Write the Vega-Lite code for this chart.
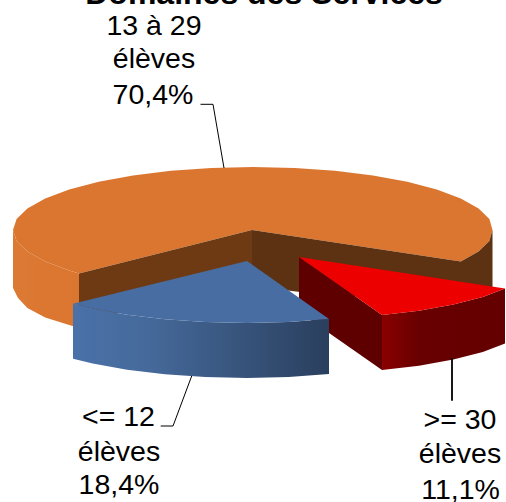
{"$schema":"https://vega.github.io/schema/vega-lite/v6.json","width":506,"height":502,"padding":0,"autosize":"none","background":"white","view":{"stroke":null},
"datasets":{"shapes":[
{"part":"orange top","i":0,"x":252,"y":230},{"part":"orange top","i":1,"x":460.8,"y":261.5},{"part":"orange top","i":2,"x":478.6,"y":251.5},{"part":"orange top","i":3,"x":489.4,"y":241},{"part":"orange top","i":4,"x":492.5,"y":230},{"part":"orange top","i":5,"x":489.4,"y":219},{"part":"orange top","i":6,"x":478.6,"y":208.5},{"part":"orange top","i":7,"x":460.8,"y":198.5},{"part":"orange top","i":8,"x":436.8,"y":189.5},{"part":"orange top","i":9,"x":407.3,"y":181.7},{"part":"orange top","i":10,"x":373,"y":175.4},{"part":"orange top","i":11,"x":335.1,"y":170.8},{"part":"orange top","i":12,"x":294.7,"y":168},{"part":"orange top","i":13,"x":253,"y":167},{"part":"orange top","i":14,"x":211.3,"y":168},{"part":"orange top","i":15,"x":170.9,"y":170.8},{"part":"orange top","i":16,"x":133,"y":175.4},{"part":"orange top","i":17,"x":98.7,"y":181.7},{"part":"orange top","i":18,"x":69.2,"y":189.5},{"part":"orange top","i":19,"x":45.2,"y":198.5},{"part":"orange top","i":20,"x":27.4,"y":208.5},{"part":"orange top","i":21,"x":16.6,"y":219},{"part":"orange top","i":22,"x":13,"y":230},{"part":"orange top","i":23,"x":16.6,"y":241},{"part":"orange top","i":24,"x":27.4,"y":251.5},{"part":"orange top","i":25,"x":45.2,"y":261.5},{"part":"orange top","i":26,"x":69.2,"y":270.5},{"part":"orange top","i":27,"x":79,"y":273.4},
{"part":"orange side","i":0,"x":13,"y":230},{"part":"orange side","i":1,"x":16.6,"y":241},{"part":"orange side","i":2,"x":27.4,"y":251.5},{"part":"orange side","i":3,"x":45.2,"y":261.5},{"part":"orange side","i":4,"x":69.2,"y":270.5},{"part":"orange side","i":5,"x":79,"y":273.4},{"part":"orange side","i":6,"x":79,"y":328},{"part":"orange side","i":7,"x":69.2,"y":325},{"part":"orange side","i":8,"x":45.2,"y":317.5},{"part":"orange side","i":9,"x":27.4,"y":308},{"part":"orange side","i":10,"x":18,"y":298},{"part":"orange side","i":11,"x":13,"y":288},
{"part":"wall left","i":0,"x":252,"y":230},{"part":"wall left","i":1,"x":79,"y":273.4},{"part":"wall left","i":2,"x":79,"y":320},{"part":"wall left","i":3,"x":252,"y":288},
{"part":"wall right","i":0,"x":252,"y":230},{"part":"wall right","i":1,"x":460.8,"y":261.5},{"part":"wall right","i":2,"x":478.6,"y":251.5},{"part":"wall right","i":3,"x":489.4,"y":241},{"part":"wall right","i":4,"x":492.5,"y":230},{"part":"wall right","i":5,"x":492.5,"y":287},{"part":"wall right","i":6,"x":400,"y":300},{"part":"wall right","i":7,"x":300,"y":292},{"part":"wall right","i":8,"x":252,"y":286},
{"part":"red wall","i":0,"x":299,"y":257},{"part":"red wall","i":1,"x":382,"y":315},{"part":"red wall","i":2,"x":382,"y":370},{"part":"red wall","i":3,"x":299,"y":312},
{"part":"red side","i":0,"x":382,"y":315},{"part":"red side","i":1,"x":419,"y":310.7},{"part":"red side","i":2,"x":453.3,"y":304.5},{"part":"red side","i":3,"x":482.8,"y":296.9},{"part":"red side","i":4,"x":505,"y":288.5},{"part":"red side","i":5,"x":505,"y":343.5},{"part":"red side","i":6,"x":482.8,"y":351.9},{"part":"red side","i":7,"x":453.3,"y":359.5},{"part":"red side","i":8,"x":419,"y":365.7},{"part":"red side","i":9,"x":382,"y":370},
{"part":"red top","i":0,"x":299,"y":257},{"part":"red top","i":1,"x":505,"y":288.5},{"part":"red top","i":2,"x":482.8,"y":296.9},{"part":"red top","i":3,"x":453.3,"y":304.5},{"part":"red top","i":4,"x":419,"y":310.7},{"part":"red top","i":5,"x":382,"y":315},
{"part":"blue side","i":0,"x":73,"y":303.7},{"part":"blue side","i":1,"x":92.7,"y":308.5},{"part":"blue side","i":2,"x":127,"y":314.7},{"part":"blue side","i":3,"x":164.9,"y":319.3},{"part":"blue side","i":4,"x":205.3,"y":322.1},{"part":"blue side","i":5,"x":247,"y":323},{"part":"blue side","i":6,"x":288.7,"y":322.1},{"part":"blue side","i":7,"x":329,"y":319},{"part":"blue side","i":8,"x":329,"y":374},{"part":"blue side","i":9,"x":288.7,"y":377.1},{"part":"blue side","i":10,"x":247,"y":378},{"part":"blue side","i":11,"x":205.3,"y":377.1},{"part":"blue side","i":12,"x":164.9,"y":374.3},{"part":"blue side","i":13,"x":127,"y":369.7},{"part":"blue side","i":14,"x":92.7,"y":363.5},{"part":"blue side","i":15,"x":73,"y":358.7},
{"part":"blue top","i":0,"x":247,"y":261},{"part":"blue top","i":1,"x":329,"y":319},{"part":"blue top","i":2,"x":288.7,"y":322.1},{"part":"blue top","i":3,"x":247,"y":323},{"part":"blue top","i":4,"x":205.3,"y":322.1},{"part":"blue top","i":5,"x":164.9,"y":319.3},{"part":"blue top","i":6,"x":127,"y":314.7},{"part":"blue top","i":7,"x":92.7,"y":308.5},{"part":"blue top","i":8,"x":73,"y":303.7}
],
"leaders":[
{"leader":"a","w":"thin","i":0,"x":200.5,"y":104.3},{"leader":"a","w":"thin","i":1,"x":213,"y":104.3},{"leader":"a","w":"thin","i":2,"x":224,"y":168},
{"leader":"b","w":"thin","i":0,"x":160.7,"y":426},{"leader":"b","w":"thin","i":1,"x":173,"y":426},{"leader":"b","w":"thin","i":2,"x":191.7,"y":376},
{"leader":"c","w":"thick","i":0,"x":452,"y":358},{"leader":"c","w":"thick","i":1,"x":452,"y":400.7}
],
"labels":[
{"label":"13 à 29","x":154,"y":35},{"label":"élèves","x":154,"y":68},{"label":"70,4%","x":153,"y":104},
{"label":"<= 12","x":118.5,"y":426},{"label":"élèves","x":119,"y":461},{"label":"18,4%","x":119,"y":494},
{"label":">= 30","x":460,"y":429},{"label":"élèves","x":460,"y":463},{"label":"11,1%","x":460.5,"y":499}
],
"heading":[{"label":"Domaines des Services","x":264,"y":4}]},
"encoding":{
"x":{"field":"x","type":"quantitative","scale":{"domain":[0,506],"range":[0,506]},"axis":null},
"y":{"field":"y","type":"quantitative","scale":{"domain":[0,502],"range":[0,502]},"axis":null}},
"layer":[
{"data":{"name":"shapes"},"transform":[{"filter":"datum.part === 'orange top'"}],"mark":{"type":"line","filled":true,"strokeWidth":0,"fill":"#DB7630"},"encoding":{"order":{"field":"i","type":"quantitative"}}},
{"data":{"name":"shapes"},"transform":[{"filter":"datum.part === 'orange side'"}],"mark":{"type":"line","filled":true,"strokeWidth":0,"fill":{"gradient":"linear","x1":0,"y1":0,"x2":1,"y2":0,"stops":[{"offset":0,"color":"#DC7A35"},{"offset":0.4,"color":"#DB7731"},{"offset":1,"color":"#DB7630"}]}},"encoding":{"order":{"field":"i","type":"quantitative"}}},
{"data":{"name":"shapes"},"transform":[{"filter":"datum.part === 'wall left'"}],"mark":{"type":"line","filled":true,"strokeWidth":0,"fill":"#6E3A14"},"encoding":{"order":{"field":"i","type":"quantitative"}}},
{"data":{"name":"shapes"},"transform":[{"filter":"datum.part === 'wall right'"}],"mark":{"type":"line","filled":true,"strokeWidth":0,"fill":"#5C3212"},"encoding":{"order":{"field":"i","type":"quantitative"}}},
{"data":{"name":"shapes"},"transform":[{"filter":"datum.part === 'red wall'"}],"mark":{"type":"line","filled":true,"strokeWidth":0,"fill":"#5E0000"},"encoding":{"order":{"field":"i","type":"quantitative"}}},
{"data":{"name":"shapes"},"transform":[{"filter":"datum.part === 'red side'"}],"mark":{"type":"line","filled":true,"strokeWidth":0,"fill":{"gradient":"linear","x1":0,"y1":0,"x2":1,"y2":0,"stops":[{"offset":0,"color":"#8A0000"},{"offset":0.3,"color":"#680000"},{"offset":1,"color":"#640000"}]}},"encoding":{"order":{"field":"i","type":"quantitative"}}},
{"data":{"name":"shapes"},"transform":[{"filter":"datum.part === 'red top'"}],"mark":{"type":"line","filled":true,"strokeWidth":0,"fill":"#ED0000"},"encoding":{"order":{"field":"i","type":"quantitative"}}},
{"data":{"name":"shapes"},"transform":[{"filter":"datum.part === 'blue side'"}],"mark":{"type":"line","filled":true,"strokeWidth":0,"fill":{"gradient":"linear","x1":0,"y1":0,"x2":1,"y2":0,"stops":[{"offset":0,"color":"#4A72A9"},{"offset":0.3,"color":"#45699A"},{"offset":1,"color":"#2A3F5E"}]}},"encoding":{"order":{"field":"i","type":"quantitative"}}},
{"data":{"name":"shapes"},"transform":[{"filter":"datum.part === 'blue top'"}],"mark":{"type":"line","filled":true,"strokeWidth":0,"fill":"#486DA3"},"encoding":{"order":{"field":"i","type":"quantitative"}}},
{"data":{"name":"leaders"},"transform":[{"filter":"datum.w === 'thin'"}],"mark":{"type":"line","color":"#000000","strokeWidth":1},"encoding":{"order":{"field":"i","type":"quantitative"},"detail":{"field":"leader"}}},
{"data":{"name":"leaders"},"transform":[{"filter":"datum.w === 'thick'"}],"mark":{"type":"line","color":"#000000","strokeWidth":1.8},"encoding":{"order":{"field":"i","type":"quantitative"},"detail":{"field":"leader"}}},
{"data":{"name":"labels"},"mark":{"type":"text","font":"Liberation Sans","fontSize":28.5,"color":"#000000","align":"center","baseline":"alphabetic"},"encoding":{"text":{"field":"label"}}},
{"data":{"name":"heading"},"mark":{"type":"text","font":"Liberation Sans","fontSize":32,"fontWeight":"bold","color":"#000000","align":"center","baseline":"alphabetic"},"encoding":{"text":{"field":"label"}}}
]}
